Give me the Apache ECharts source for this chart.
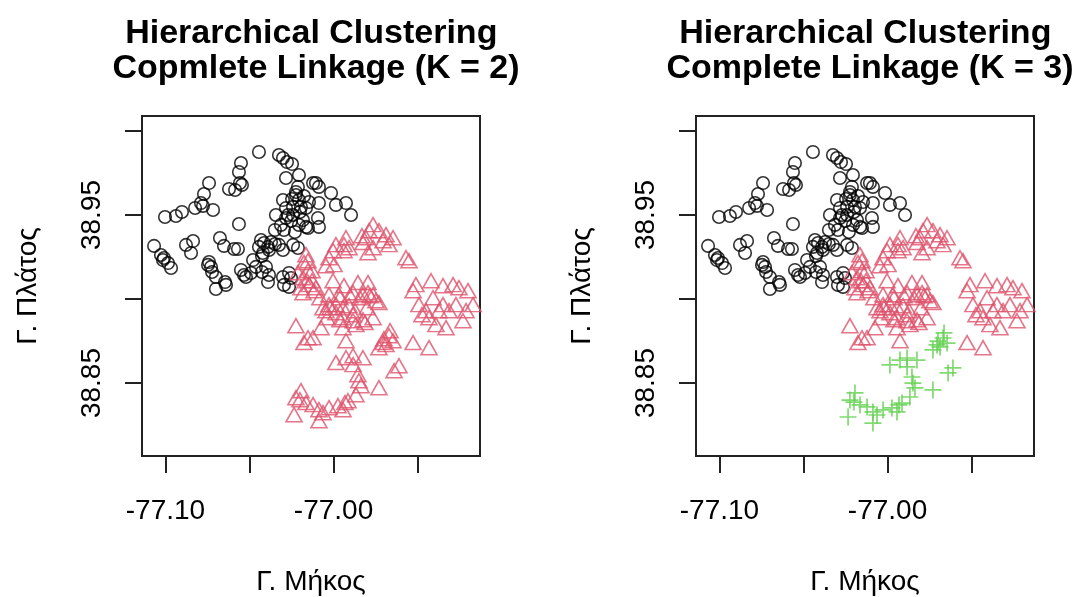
<!DOCTYPE html>
<html><head><meta charset="utf-8">
<script src="https://cdn.jsdelivr.net/npm/echarts@6/dist/echarts.min.js"></script>
<style>html,body{margin:0;padding:0;background:#fff}#c{width:1082px;height:597px}</style>
</head><body><div id="c"></div>
<script>
// Cluster 1 (black circles) – longitude / latitude
const lonC1 = [-77.0444,-77.0325,-77.0301,-77.0277,-77.0247,-77.0551,-77.0563,-77.0557,-77.0622,-77.0586,
-77.0545,-77.0741,-77.0771,-77.0789,-77.0824,-77.0717,-77.0777,-77.0902,-77.0938,-77.1003,
-77.0563,-77.1068,-77.1027,-77.1009,-77.0985,-77.0967,-77.1015,-77.0878,-77.0836,-77.0848,
-77.0676,-77.0652,-77.0592,-77.0569,-77.0747,-77.0729,-77.0741,-77.0700,-77.0646,-77.0640,
-77.0700,-77.0551,-77.0521,-77.0491,-77.0479,-77.0462,-77.0432,-77.0414,-77.0390,-77.0444,
-77.0420,-77.0384,-77.0402,-77.0384,-77.0390,-77.0301,-77.0295,-77.0253,-77.0325,-77.0301,
-77.0241,-77.0212,-77.0295,-77.0313,-77.0283,-77.0241,-77.0182,-77.0206,-77.0164,-77.0343,
-77.0301,-77.0283,-77.0206,-77.0212,-77.0224,-77.0206,-77.0194,-77.0241,-77.0146,-77.0122,
-77.0105,-77.0087,-77.0015,-76.9986,-76.9926,-76.9896,-77.0087,-77.0093,-77.0087,-77.0164,
-77.0152,-77.0265,-77.0265,-77.0200,-77.0224,-77.0253,-77.0372,-77.0349,-77.0426,-77.0533,
-77.0176,-77.0723,-77.0283,-77.0230,-77.0426,-77.0247,-77.0271,-77.0349];
const latC1 = [38.9875,38.9857,38.9839,38.9815,38.9803,38.9809,38.9756,38.9690,38.9655,38.9649,
38.9679,38.9690,38.9625,38.9571,38.9542,38.9530,38.9554,38.9518,38.9494,38.9488,
38.9446,38.9316,38.9262,38.9244,38.9214,38.9185,38.9232,38.9322,38.9345,38.9274,
38.9363,38.9316,38.9298,38.9298,38.9203,38.9191,38.9220,38.9131,38.9101,38.9084,
38.9060,38.9173,38.9131,38.9155,38.9232,38.9191,38.9351,38.9333,38.9310,38.9310,
38.9274,38.9292,38.9191,38.9143,38.9101,38.9131,38.9084,38.9125,38.9322,38.9292,
38.9322,38.9304,38.9411,38.9441,38.9482,38.9500,38.9470,38.9441,38.9429,38.9500,
38.9589,38.9720,38.9738,38.9667,38.9619,38.9589,38.9548,38.9548,38.9577,38.9690,
38.9690,38.9667,38.9631,38.9560,38.9571,38.9500,38.9571,38.9482,38.9429,38.9542,
38.9423,38.9155,38.9072,38.9518,38.9637,38.9464,38.9339,38.9327,38.9256,38.9143,
38.9613,38.9161,38.9542,38.9399,38.9161,38.9595,38.9500,38.9411];

// Cluster 2 (red triangles)
const lonC2 = [-76.9765,-76.9789,-76.9807,-76.9730,-76.9688,-76.9646,-76.9670,-76.9795,-76.9765,-76.9706,
-76.9926,-76.9938,-76.9908,-76.9986,-77.0003,-77.0027,-76.9997,-77.0045,-76.9831,-76.9825,
-76.9569,-76.9551,-77.0164,-77.0176,-77.0152,-77.0182,-77.0146,-77.0105,-77.0194,-77.0128,
-77.0003,-76.9938,-76.9855,-76.9795,-77.0027,-76.9968,-76.9884,-76.9825,-76.9730,-77.0063,
-76.9986,-76.9908,-76.9510,-76.9420,-76.9349,-76.9289,-76.9254,-76.9200,-76.9492,-76.9408,
-76.9349,-76.9272,-76.9170,-76.9450,-76.9373,-76.9212,-76.9474,-76.9432,-76.9391,-76.9331,
-76.9230,-76.9313,-76.9527,-77.0182,-77.0116,-77.0224,-77.0122,-77.0176,-76.9926,-77.0075,
-77.0027,-76.9986,-76.9944,-76.9884,-76.9825,-76.9944,-76.9867,-76.9748,-76.9795,-77.0045,
-76.9527,-76.9432,-76.9765,-76.9765,-77.0152,-77.0128,-77.0158,-77.0081,-76.9962,-76.9902,
-76.9843,-76.9783,-77.0021,-76.9944,-76.9872,-76.9801,-77.0039,-76.9962,-76.9884,-76.9813,
-77.0212,-76.9938,-77.0152];
const latC2 = [38.9429,38.9393,38.9351,38.9393,38.9369,38.9351,38.9310,38.9262,38.9292,38.9333,
38.9351,38.9310,38.9292,38.9310,38.9274,38.9232,38.9191,38.9185,38.9363,38.9322,
38.9232,38.9214,38.9250,38.9203,38.9155,38.9113,38.9072,38.9054,38.9054,38.9095,
38.9095,38.9066,38.9084,38.9084,38.9012,38.9012,38.9024,38.9012,38.8965,38.8935,
38.8953,38.8947,38.9072,38.9095,38.9066,38.9072,38.9054,38.9036,38.8953,38.8994,
38.8953,38.8953,38.8953,38.8917,38.8917,38.8917,38.8893,38.8875,38.8834,38.8816,
38.8857,38.8917,38.9036,38.9024,38.9036,38.8828,38.8756,38.8727,38.8738,38.8816,
38.8953,38.8905,38.8875,38.8893,38.8863,38.8816,38.8834,38.8976,38.9024,38.8917,
38.8727,38.8697,38.9012,38.8875,38.9214,38.9155,38.9095,38.8994,38.8994,38.9006,
38.8994,38.9006,38.8935,38.8935,38.8917,38.8935,38.8875,38.8863,38.8857,38.8846,
38.9143,38.9274,38.8756];

// Cluster 3 (green crosses, K = 3); part of cluster 2 when K = 2
const lonC3 = [-76.9670,-76.9706,-76.9730,-76.9688,-76.9646,-76.9664,-76.9611,-76.9640,-76.9730,-76.9986,
-76.9926,-76.9884,-76.9884,-76.9825,-76.9855,-76.9849,-76.9837,-76.9867,-76.9914,-77.0194,
-77.0224,-77.0235,-77.0164,-77.0122,-77.0087,-77.0063,-77.0087,-77.0027,-76.9974,-76.9944,
-77.0200,-76.9932,-76.9700];
const latC3 = [38.8768,38.8727,38.8697,38.8715,38.8738,38.8798,38.8590,38.8560,38.8459,38.8608,
38.8637,38.8649,38.8596,38.8637,38.8536,38.8500,38.8471,38.8417,38.8381,38.8441,
38.8399,38.8298,38.8370,38.8358,38.8328,38.8310,38.8262,38.8340,38.8352,38.8328,
38.8387,38.8370,38.8750];

const xRange = [-77.11398, -76.91287];
const yRange = [38.8066, 39.0089];
const xTicks = [-77.10, -77.05, -77.00, -76.95];
const xTickLabels = [-77.10, -77.00];
const yTicks = [38.85, 38.90, 38.95, 39.00];
const yTickLabels = [38.85, 38.95];
const titles = ['Hierarchical Clustering \nCopmlete Linkage (K = 2)', 'Hierarchical Clustering \nComplete Linkage (K = 3)'];
const xName = 'Γ. Μήκος';
const yName = 'Γ. Πλάτος';
const colors = ['#000000', '#DF536B', '#61D04F'];

const zip = (a, b) => a.map((v, i) => [v, b[i]]);
const FONT = 'Liberation Sans';
const gridPos = [{left: 142}, {left: 696}];

function xAx(gi) {
  return {
    type: 'value', gridIndex: gi, min: xRange[0], max: xRange[1],
    name: xName, nameLocation: 'middle', nameGap: 112,
    nameTextStyle: {fontSize: 28, color: '#000', fontFamily: FONT},
    axisLine: {show: false}, splitLine: {show: false},
    axisTick: {show: true, length: 17, customValues: xTicks, lineStyle: {color: '#222', width: 2}},
    axisLabel: {customValues: xTickLabels, formatter: v => v.toFixed(2), margin: 41,
      fontSize: 28, color: '#000', fontFamily: FONT}
  };
}
function yAx(gi) {
  return {
    type: 'value', gridIndex: gi, min: yRange[0], max: yRange[1],
    name: yName, nameLocation: 'middle', nameGap: 100, nameRotate: 90,
    nameTextStyle: {fontSize: 28, color: '#000', fontFamily: FONT},
    axisLine: {show: false}, splitLine: {show: false},
    axisTick: {show: true, length: 17, customValues: yTicks, lineStyle: {color: '#222', width: 2}},
    axisLabel: {customValues: yTickLabels, formatter: v => v.toFixed(2), margin: 36, rotate: 90,
      fontSize: 28, color: '#000', fontFamily: FONT}
  };
}
const circle = (gi, data) => ({type: 'scatter', xAxisIndex: gi, yAxisIndex: gi, data,
  symbol: 'circle', symbolSize: 12.5,
  itemStyle: {color: 'rgba(0,0,0,0)', borderColor: colors[0], borderWidth: 1.6}});
const tri = (gi, data) => ({type: 'scatter', xAxisIndex: gi, yAxisIndex: gi, data,
  symbol: 'triangle', symbolSize: [16, 14], symbolOffset: [0, -2.3],
  itemStyle: {color: 'rgba(0,0,0,0)', borderColor: colors[1], borderWidth: 1.6}});
const cross = (gi, data) => ({type: 'scatter', xAxisIndex: gi, yAxisIndex: gi, data,
  symbol: 'path://M0,8L16,8M8,0L8,16', symbolSize: 17,
  itemStyle: {color: 'rgba(0,0,0,0)', borderColor: colors[2], borderWidth: 1.7}});

const c1 = zip(lonC1, latC1), c2 = zip(lonC2, latC2), c3 = zip(lonC3, latC3);

const chart = echarts.init(document.getElementById('c'), null, {renderer: 'canvas'});
chart.setOption({
  backgroundColor: '#fff',
  animation: false,
  title: titles.map((t, i) => ({
    text: t, left: gridPos[i].left + 169, top: 11, textAlign: 'center',
    textStyle: {fontSize: 34, fontWeight: 'bold', lineHeight: 35, color: '#000', fontFamily: FONT}
  })),
  grid: gridPos.map(g => ({left: g.left, top: 116, width: 338, height: 340, show: true,
    borderColor: '#222', borderWidth: 2, backgroundColor: 'transparent', containLabel: false,
    outerBoundsMode: 'none'})),
  xAxis: [xAx(0), xAx(1)],
  yAxis: [yAx(0), yAx(1)],
  series: [
    circle(0, c1), tri(0, c2.concat(c3)),
    circle(1, c1), tri(1, c2), cross(1, c3)
  ]
});
</script></body></html>
